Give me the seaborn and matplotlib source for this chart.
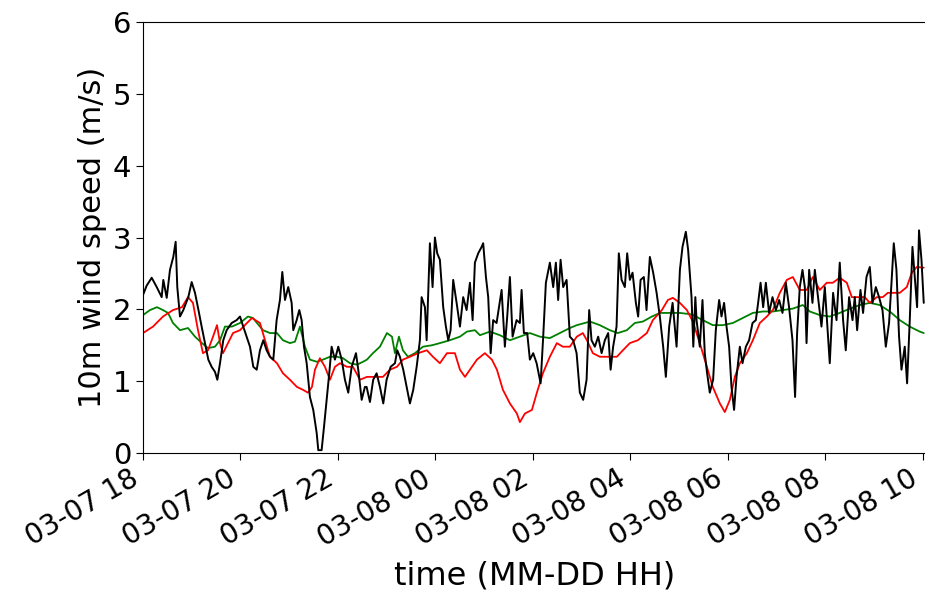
import seaborn as sns
import pandas as pd
import matplotlib.pyplot as plt
import matplotlib.dates as mdates

start = pd.Timestamp('2000-03-07 18:00')

# observed 10m wind speed: (minutes after 03-07 18:00, m/s)
obs = [
    (0, 2.20), (4.5, 2.33), (10.7, 2.44), (16.9, 2.31), (23.0, 2.17), (25.0, 2.41), (29.2, 2.16),
    (33.2, 2.55), (37.3, 2.73), (40.2, 2.94), (42.2, 2.31), (45.5, 1.90), (49.6, 1.99), (55.8, 2.17),
    (59.9, 2.38), (64.0, 2.23), (68.1, 2.00), (72.2, 1.76), (76.3, 1.53), (80.4, 1.30), (84.5, 1.20),
    (88.6, 1.13), (91.5, 1.02), (94.8, 1.25), (98.8, 1.57), (103.0, 1.71), (109.2, 1.81), (115.3, 1.85),
    (119.4, 1.90), (123.4, 1.76), (127.6, 1.62), (131.7, 1.48), (135.8, 1.20), (140.0, 1.16), (144.0, 1.43),
    (148.1, 1.57), (152.2, 1.43), (156.3, 1.34), (160.4, 1.30), (164.5, 1.85), (168.6, 2.13), (171.5, 2.52),
    (174.8, 2.13), (178.8, 2.31), (183.0, 2.09), (185.0, 1.71), (189.2, 1.85), (192.4, 1.99), (195.3, 1.85),
    (198.2, 1.48), (201.5, 1.25), (205.5, 0.78), (209.6, 0.60), (213.8, 0.28), (215.8, 0.04), (219.9, 0.04),
    (222.8, 0.36), (226.1, 0.74), (229.3, 1.11), (232.2, 1.48), (236.3, 1.30), (240.4, 1.48), (244.6, 1.30),
    (248.6, 1.02), (252.7, 0.84), (256.9, 1.20), (262.2, 1.39), (265.0, 1.16), (269.2, 0.74), (273.2, 0.92),
    (275.3, 0.92), (279.4, 0.71), (283.4, 1.02), (287.6, 1.11), (291.7, 0.92), (295.8, 0.69), (299.9, 1.02),
    (304.9, 1.20), (310.2, 1.25), (313.0, 1.43), (316.3, 1.34), (320.4, 1.16), (324.6, 0.92), (328.6, 0.69),
    (332.7, 0.88), (336.9, 1.20), (340.9, 1.57), (343.0, 2.17), (347.1, 2.03), (349.2, 1.57), (351.1, 2.23),
    (353.2, 2.92), (356.5, 2.31), (359.4, 3.00), (362.2, 2.78), (365.5, 2.69), (369.6, 2.03), (372.9, 1.76),
    (375.8, 1.57), (378.7, 1.71), (381.9, 2.41), (386.1, 2.09), (390.2, 1.76), (394.2, 2.17), (398.4, 1.99),
    (402.5, 2.37), (405.8, 1.85), (408.6, 2.65), (412.7, 2.78), (416.9, 2.87), (418.8, 2.92), (422.2, 2.45),
    (425.0, 2.17), (428.0, 1.39), (431.1, 1.85), (435.3, 1.81), (441.5, 2.27), (445.5, 1.48), (448.4, 1.90),
    (451.7, 2.45), (455.0, 1.62), (459.9, 1.85), (464.0, 1.81), (466.1, 2.27), (468.9, 1.67), (473.0, 1.67),
    (476.3, 1.30), (480.4, 1.39), (484.6, 1.25), (489.5, 0.97), (492.7, 1.62), (496.0, 2.37), (500.9, 2.65),
    (505.0, 2.31), (508.3, 2.65), (511.1, 2.13), (514.1, 2.69), (517.3, 2.31), (521.5, 2.41), (525.5, 1.62),
    (529.6, 1.57), (533.8, 1.39), (537.8, 0.84), (541.9, 0.74), (546.1, 1.02), (549.3, 1.99), (552.2, 1.57),
    (556.3, 1.48), (560.4, 1.62), (564.6, 1.39), (568.6, 1.57), (572.7, 1.67), (575.7, 1.16), (578.8, 1.48),
    (583.0, 1.76), (585.8, 2.78), (589.2, 2.41), (593.2, 2.31), (596.1, 2.78), (599.4, 2.41), (602.7, 2.51),
    (606.8, 2.09), (609.6, 1.90), (612.6, 2.41), (616.6, 2.45), (619.9, 1.99), (624.0, 2.73), (628.1, 2.51),
    (632.3, 2.23), (636.3, 1.90), (640.4, 1.48), (643.7, 1.06), (647.8, 1.76), (652.0, 2.09), (656.9, 1.48),
    (661.0, 2.55), (664.2, 2.87), (668.3, 3.08), (671.1, 2.83), (675.3, 2.17), (677.5, 1.48), (680.0, 2.17),
    (681.5, 1.85), (685.5, 1.48), (688.8, 2.13), (691.6, 1.39), (694.5, 1.11), (697.8, 0.84), (701.9, 1.02),
    (705.2, 1.71), (709.3, 2.13), (712.2, 1.90), (715.4, 2.09), (718.4, 1.76), (721.6, 1.48), (724.5, 0.92),
    (727.7, 0.60), (730.7, 1.06), (734.8, 1.48), (738.1, 1.25), (742.2, 1.48), (746.2, 1.57), (750.4, 1.81),
    (754.5, 1.85), (757.3, 2.09), (760.3, 2.37), (763.5, 2.03), (766.8, 2.37), (770.8, 1.95), (775.0, 2.17),
    (779.1, 1.99), (783.2, 2.13), (787.3, 1.95), (791.4, 2.37), (795.4, 2.03), (799.6, 1.57), (802.8, 0.78),
    (805.3, 1.67), (808.6, 2.31), (811.9, 2.55), (814.8, 2.31), (816.9, 1.53), (820.1, 2.55), (824.2, 2.09),
    (827.1, 2.55), (831.1, 2.17), (835.3, 1.76), (839.4, 2.31), (843.4, 1.62), (845.5, 1.25), (849.6, 2.23),
    (853.8, 1.85), (857.8, 2.65), (861.9, 1.85), (865.2, 1.43), (869.3, 2.17), (873.5, 1.85), (876.3, 2.17),
    (879.2, 1.71), (883.3, 2.27), (886.5, 1.95), (890.7, 2.45), (894.8, 2.59), (898.1, 2.09), (902.2, 2.31),
    (906.2, 2.17), (910.4, 1.99), (914.5, 1.48), (918.5, 1.81), (921.5, 2.37), (924.3, 2.92), (927.6, 2.55),
    (930.8, 1.62), (933.8, 1.16), (937.8, 1.48), (940.7, 0.97), (944.0, 1.85), (947.3, 2.87), (950.1, 2.45),
    (953.0, 2.03), (955.4, 3.10), (958.4, 2.69), (961.2, 2.09),
]

# model run 1 (red)
model_red = [
    (0, 1.67), (12.3, 1.76), (24.6, 1.90), (36.9, 1.99), (48.0, 2.03), (55.4, 2.17), (61.5, 2.09),
    (67.7, 1.71), (73.8, 1.39), (80.0, 1.43), (86.2, 1.62), (91.1, 1.78), (94.8, 1.53), (98.5, 1.39),
    (104.6, 1.53), (110.8, 1.67), (119.4, 1.71), (128.0, 1.81), (134.2, 1.88), (144.0, 1.81), (150.2, 1.57),
    (156.3, 1.34), (164.9, 1.25), (172.3, 1.11), (180.9, 1.02), (189.5, 0.92), (196.9, 0.88), (203.1, 0.84),
    (208.0, 0.92), (211.7, 1.16), (217.8, 1.32), (224.0, 1.20), (230.2, 1.02), (236.3, 1.20), (242.5, 1.25),
    (251.1, 1.20), (258.5, 1.20), (267.1, 1.02), (275.7, 1.06), (283.1, 1.06), (295.4, 1.06), (304.0, 1.16),
    (312.6, 1.20), (320.0, 1.30), (328.6, 1.34), (338.5, 1.39), (349.5, 1.43), (356.9, 1.34), (365.5, 1.25),
    (374.2, 1.39), (384.0, 1.39), (390.2, 1.16), (396.4, 1.06), (402.5, 1.16), (411.1, 1.30), (420.9, 1.39),
    (429.5, 1.30), (435.7, 1.16), (443.1, 0.88), (451.7, 0.69), (460.3, 0.55), (464.0, 0.43), (470.2, 0.55),
    (478.8, 0.60), (484.9, 0.84), (492.3, 1.11), (500.9, 1.34), (509.5, 1.53), (516.9, 1.48), (525.5, 1.48),
    (534.1, 1.62), (541.5, 1.67), (546.5, 1.57), (553.8, 1.39), (562.4, 1.34), (571.1, 1.34), (583.4, 1.34),
    (590.8, 1.43), (599.4, 1.53), (609.2, 1.57), (620.3, 1.67), (627.7, 1.85), (638.8, 1.99), (646.2, 2.13),
    (652.3, 2.16), (661.0, 2.09), (669.6, 1.99), (676.9, 1.83), (685.5, 1.53), (694.2, 1.20), (701.5, 0.92),
    (710.2, 0.69), (716.3, 0.57), (722.5, 0.74), (728.6, 1.06), (734.8, 1.25), (743.4, 1.39), (750.8, 1.57),
    (759.4, 1.81), (768.0, 1.90), (775.4, 1.99), (784.0, 2.23), (792.6, 2.41), (800.0, 2.45), (808.6, 2.27),
    (817.2, 2.27), (824.6, 2.45), (833.2, 2.27), (841.8, 2.37), (849.2, 2.37), (857.8, 2.44), (866.5, 2.37),
    (872.6, 2.17), (880.0, 2.17), (888.6, 2.17), (894.8, 2.09), (903.4, 2.17), (910.8, 2.17), (917.0, 2.23),
    (923.1, 2.23), (931.7, 2.23), (940.3, 2.31), (946.5, 2.51), (952.6, 2.59), (961.2, 2.58),
]

# model run 2 (green)
model_green = [
    (0, 1.92), (8.6, 1.99), (17.2, 2.03), (24.6, 1.99), (30.8, 1.95), (36.9, 1.81), (45.5, 1.71),
    (55.4, 1.74), (64.0, 1.62), (72.6, 1.53), (80.0, 1.46), (88.6, 1.48), (94.8, 1.57), (100.9, 1.76),
    (109.5, 1.76), (119.4, 1.81), (129.2, 1.90), (135.4, 1.88), (140.3, 1.81), (147.7, 1.71), (156.3, 1.67),
    (164.9, 1.67), (172.3, 1.57), (180.9, 1.53), (187.1, 1.55), (193.2, 1.76), (199.4, 1.48), (205.5, 1.30),
    (214.2, 1.27), (221.5, 1.30), (230.2, 1.34), (238.8, 1.34), (246.2, 1.32), (254.8, 1.25), (263.4, 1.23),
    (270.8, 1.27), (275.7, 1.30), (283.1, 1.39), (291.7, 1.48), (300.3, 1.67), (306.5, 1.62), (310.2, 1.39),
    (315.1, 1.62), (320.0, 1.43), (326.2, 1.34), (334.8, 1.39), (344.6, 1.48), (355.7, 1.50), (365.5, 1.53),
    (377.8, 1.57), (390.2, 1.62), (398.8, 1.69), (408.6, 1.71), (414.8, 1.64), (427.1, 1.69), (439.4, 1.64),
    (451.7, 1.57), (464.0, 1.62), (476.3, 1.67), (488.6, 1.62), (500.9, 1.60), (513.2, 1.67), (525.5, 1.74),
    (534.1, 1.78), (544.0, 1.81), (550.2, 1.83), (562.4, 1.78), (574.7, 1.71), (584.6, 1.67), (595.7, 1.71),
    (605.5, 1.81), (615.4, 1.83), (626.5, 1.90), (636.3, 1.95), (648.6, 1.95), (661.0, 1.95), (675.7, 1.93),
    (689.2, 1.85), (701.5, 1.78), (713.8, 1.78), (726.2, 1.81), (738.5, 1.88), (750.8, 1.95), (763.1, 1.97),
    (775.4, 1.97), (787.7, 1.99), (800.0, 2.01), (812.3, 2.06), (820.9, 1.97), (833.2, 1.92), (845.5, 1.90),
    (857.8, 1.95), (870.2, 2.01), (882.5, 2.06), (894.8, 2.09), (907.1, 2.06), (919.4, 1.97), (931.7, 1.85),
    (943.9, 1.76), (956.3, 1.69), (961.2, 1.67),
]


def to_frame(pairs):
    d = pd.DataFrame(pairs, columns=['minutes', 'speed'])
    d['time'] = start + pd.to_timedelta(d['minutes'], unit='min')
    return d


sns.set_style('ticks', {'axes.edgecolor': 'black', 'text.color': 'black',
                        'xtick.color': 'black', 'ytick.color': 'black',
                        'axes.labelcolor': 'black'})
plt.rcParams['font.family'] = ['DejaVu Sans']

fig = plt.figure(figsize=(9.25, 5.96), dpi=100)
ax = fig.add_axes([0.1546, 0.2399, 0.8465, 0.7232])

sns.lineplot(data=to_frame(model_green), x='time', y='speed', color='green', lw=1.3, ax=ax)
sns.lineplot(data=to_frame(model_red), x='time', y='speed', color='red', lw=1.3, ax=ax)
sns.lineplot(data=to_frame(obs), x='time', y='speed', color='black', lw=1.4, ax=ax)

ax.set_ylim(0, 6)
ax.set_xlim(start, start + pd.Timedelta(minutes=964))
ax.xaxis.set_major_locator(mdates.HourLocator(byhour=range(0, 24, 2)))
ax.xaxis.set_major_formatter(mdates.DateFormatter('%m-%d %H'))
plt.setp(ax.get_xticklabels(), rotation=30, ha='right')
ax.tick_params(axis='y', labelsize=21, length=5)
ax.tick_params(axis='x', labelsize=20, length=5)
ax.set_xlabel('time (MM-DD HH)', fontsize=23, labelpad=6)
ax.set_ylabel('10m wind speed (m/s)', fontsize=22)

fig.savefig('out.png', dpi=100)
